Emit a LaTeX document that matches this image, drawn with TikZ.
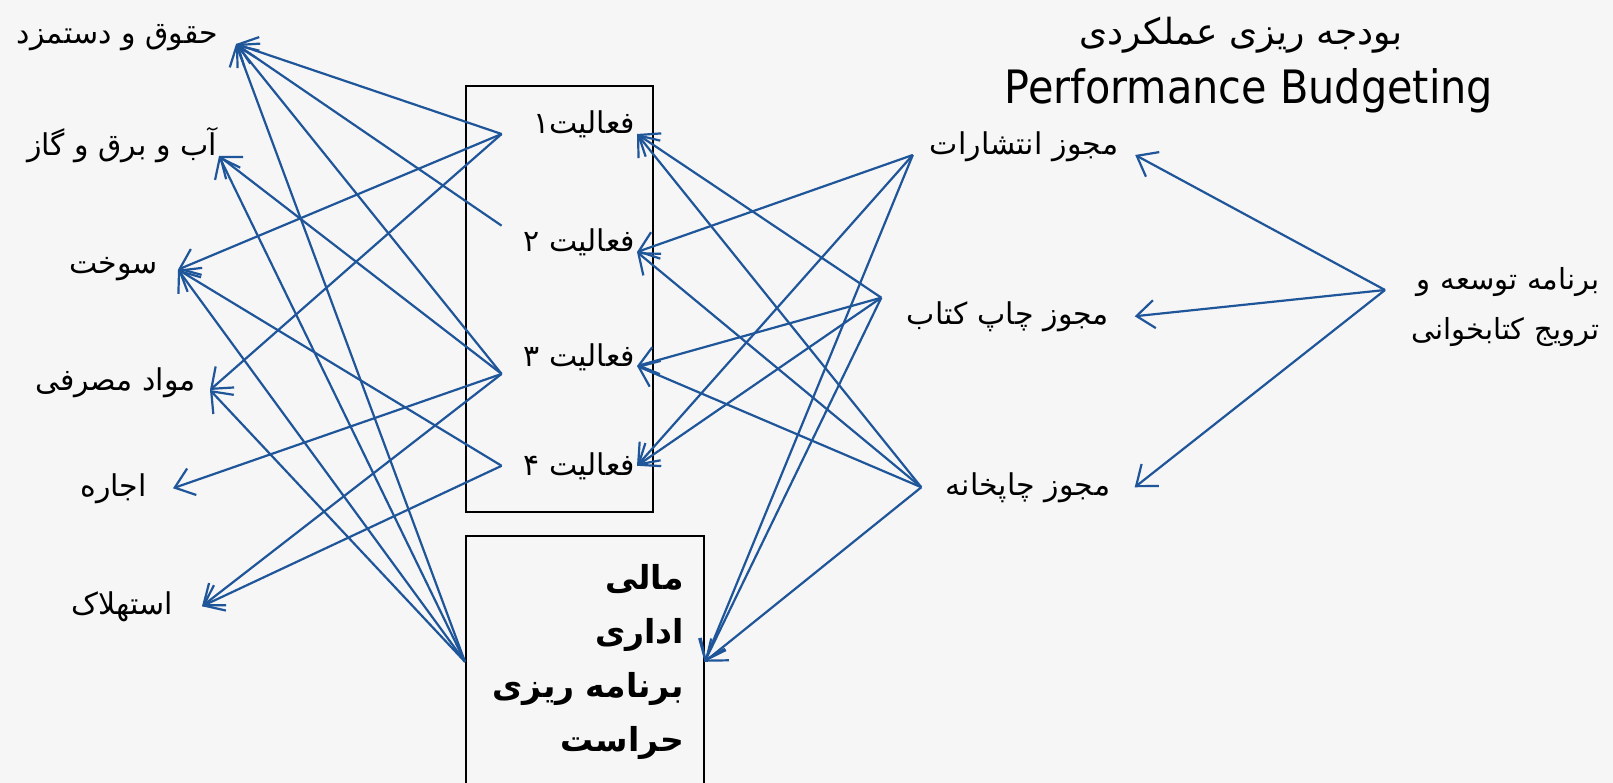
\documentclass[tikz,border=0pt]{standalone}
\usepackage{fontspec}
\usetikzlibrary{arrows.meta}
\TeXXeTstate=1
\newfontfamily\fa[Script=Arabic]{DejaVu Sans}
\newfontfamily\latinfont[FakeStretch=0.9]{DejaVu Sans}
\definecolor{linkblue}{RGB}{31,85,153}
\definecolor{paper}{RGB}{246,246,246}

\begin{document}
\begin{tikzpicture}[
        x=1pt, y=-1pt,
        >={Straight Barb[length=18pt,width=28pt]},
        link/.style = {->, draw=linkblue, line width=2.2pt},
        frame/.style = {draw, line width=1.6pt, inner sep=0pt},
        cost/.style = {font=\fa\fontsize{30}{36}\selectfont, anchor=base east},
        act/.style = {font=\fa\fontsize{30}{36}\selectfont, text width=131pt, align=right, inner xsep=2pt, anchor=base east},
        lic/.style = {font=\fa\fontsize{30}{36}\selectfont, align=center, anchor=base},
        prog/.style = {font=\fa\fontsize{29}{50}\selectfont, text width=200pt, align=right, inner xsep=14pt, anchor=base west},
        admin/.style = {frame, font=\fa\bfseries\fontsize{33}{54}\selectfont, text width=198pt, inner xsep=20pt, minimum height=252pt, align=right, anchor=north west}]
    \fill[paper] (0,0) rectangle (1613,783);
    \useasboundingbox (0,0) rectangle (1613,783);

    % titles
    \node[font=\fa\fontsize{36}{42}\selectfont] (title) at (1241,35) {\beginR بودجه ریزی عملکردی\endR};
    \node[font=\latinfont\fontsize{46}{54}\selectfont, anchor=base] (titleen) at (1249,104) {Performance Budgeting};

    % cost items
    \node[cost, inner xsep=18pt] (hq) at (236,44) {\beginR حقوق و دستمزد\endR};
    \node[cost, inner xsep=2pt] (ab) at (219,156) {\beginR آب و برق و گاز\endR};
    \node[cost, inner xsep=20pt] (sk) at (178,274) {\beginR سوخت\endR};
    \node[cost, inner xsep=14pt] (mm) at (210,390) {\beginR مواد مصرفی\endR};
    \node[cost, inner xsep=26pt] (ej) at (173,496) {\beginR اجاره\endR};
    \node[cost, inner xsep=29pt] (es) at (202,614) {\beginR استهلاک\endR};

    % activities
    \node[frame, minimum width=187pt, minimum height=426pt, anchor=north west] (actbox) at (465,85) {};
    \node[act] (f1) at (637,134) {\beginR فعالیت۱\endR};
    \node[act] (f2) at (637,252) {\beginR فعالیت ۲\endR};
    \node[act] (f3) at (637,366) {\beginR فعالیت ۳\endR};
    \node[act] (f4) at (637,475) {\beginR فعالیت ۴\endR};

    \node[admin] (adm) at (465,535) {\beginR مالی\endR\\\beginR اداری\endR\\\beginR برنامه ریزی\endR\\\beginR حراست\endR};

    % licences and programme
    \node[lic, text width=206pt, inner xsep=8pt] (m1) at (1024,155) {\beginR مجوز انتشارات\endR};
    \node[lic, text width=233pt, inner xsep=10pt] (m2) at (1008,324) {\beginR مجوز چاپ کتاب\endR};
    \node[lic, text width=197pt, inner xsep=8pt] (m3) at (1028,495) {\beginR مجوز چاپخانه\endR};
    \node[prog] (pr) at (1385,290) {\beginR برنامه توسعه و\endR\\\beginR ترویج کتابخوانی\endR};

    % activities -> costs
    \draw[link] (f1.base west) -- (hq.base east);
    \draw[link] (f1.base west) -- (sk.east);
    \draw[link] (f1.base west) -- (mm.base east);
    \draw[link] (f2.north west) -- (hq.base east);
    \draw[link] (f3.south west) -- (hq.base east);
    \draw[link] (f3.south west) -- (ab.base east);
    \draw[link] (f3.south west) -- (ej.east);
    \draw[link] (f3.south west) -- (es.east);
    \draw[link] (f4.west) -- (sk.east);
    \draw[link] (f4.west) -- (es.east);
    \draw[link] (adm.west) -- (hq.base east);
    \draw[link] (adm.west) -- (ab.base east);
    \draw[link] (adm.west) -- (sk.east);
    \draw[link] (adm.west) -- (mm.base east);

    % licences -> activities
    \draw[link] (m1.base west) -- (f2.base east);
    \draw[link] (m1.base west) -- (f4.east);
    \draw[link] (m1.base west) -- (adm.east);
    \draw[link] (m2.north west) -- (f1.base east);
    \draw[link] (m2.north west) -- (f3.base east);
    \draw[link] (m2.north west) -- (f4.east);
    \draw[link] (m2.north west) -- (adm.east);
    \draw[link] (m3.west) -- (f1.base east);
    \draw[link] (m3.west) -- (f2.base east);
    \draw[link] (m3.west) -- (f3.base east);
    \draw[link] (m3.west) -- (adm.east);

    % programme -> licences
    \draw[link] (pr.base west) -- (m1.base east);
    \draw[link] (pr.base west) -- (m2.east);
    \draw[link] (pr.base west) -- (m3.east);
\end{tikzpicture}
\end{document}
